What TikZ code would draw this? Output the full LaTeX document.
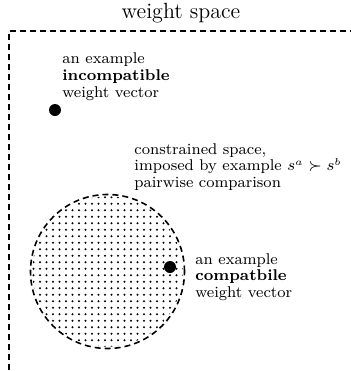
\documentclass[tikz,border=0pt]{standalone}
\begin{document}
\begin{tikzpicture}[x=0.5pt,y=-0.5pt,
  frame/.style={dash pattern=on 3pt off 2pt, line width=0.8pt},
  vec/.style={circle,fill=black,inner sep=0pt,minimum size=6pt},
  lbl/.style={align=left,font=\fontsize{7.8}{8.4}\selectfont,inner sep=0pt,anchor=west}]
\useasboundingbox (0,0) rectangle (350,371);
\node[font=\fontsize{11}{13}\selectfont] (title) at (181,13) {weight space};
\coordinate (fb) at (9,380);
\coordinate (ftl) at (9,31);
\coordinate (fr) at (360,31);
\draw[frame] (fb) -- (ftl) -- (fr);
\node[circle,minimum size=77pt,inner sep=0pt] (space) at (107.5,271.5) {};
\begin{scope}
  \clip (space.center) circle[radius=37.6pt];
  \foreach \i in {0,...,25} {
    \foreach \j in {0,...,25} {
      \fill ({27+6.5*\i},{190.7+6.5*\j}) circle[radius=0.55pt];
    }
  }
\end{scope}
\draw[frame] (space.center) circle[radius=38.5pt];
\node[vec] (inc) at (55,110) {};
\node[lbl] (inclbl) at (62,76.5) {an example\\\textbf{incompatible}\\weight vector};
\node[lbl] (conlbl) at (134,167) {constrained space,\\imposed by example $s^a \succ s^b$\\pairwise comparison};
\node[vec] (comp) at (170,267) {};
\node[lbl] (complbl) at (195,277) {an example\\\textbf{compatbile}\\weight vector};
\end{tikzpicture}
\end{document}
